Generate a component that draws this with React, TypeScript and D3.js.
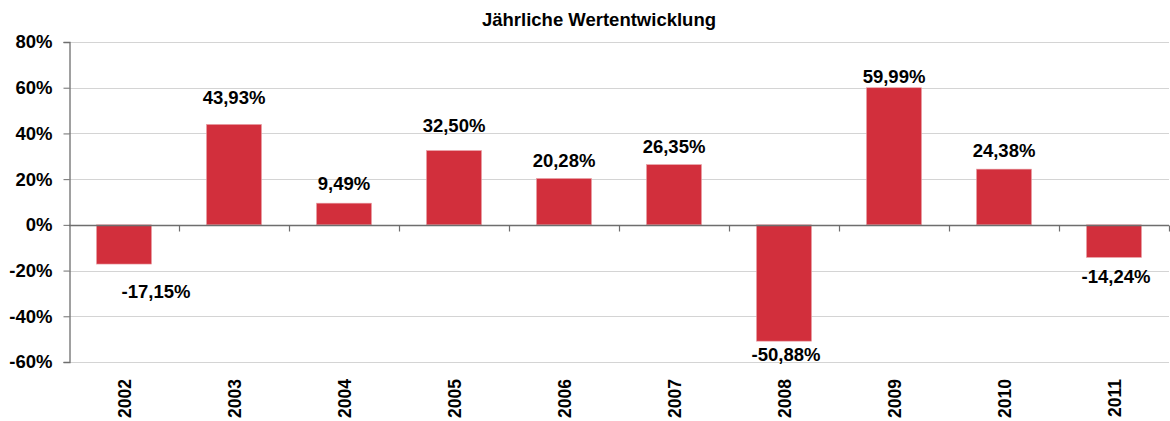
import React, { useEffect, useRef } from 'react';
import * as d3 from 'd3';

const years: string[] = ['2002', '2003', '2004', '2005', '2006', '2007', '2008', '2009', '2010', '2011'];
const returns: number[] = [-17.15, 43.93, 9.49, 32.5, 20.28, 26.35, -50.88, 59.99, 24.38, -14.24];
const yTicks: number[] = [-60, -40, -20, 0, 20, 40, 60, 80];

// label placement as in the original (baseline gap from bar end, horizontal shift)
const labelGap: number[] = [34, 20, 13, 19, 12, 12, 20, 5, 12, 26];
const labelShift: number[] = [32, 0, 0, 0, 0, 0, 2, 0, 0, 2];

const W = 1170;
const H = 421;
const FONT = '"Liberation Sans", Arial, sans-serif';

export default function App() {
  const svgRef = useRef<SVGSVGElement>(null);

  useEffect(() => {
    if (!svgRef.current) return;
    const svg = d3.select(svgRef.current);
    svg.selectAll('*').remove();

    const left = 69;
    const right = 1169;
    const top = 42;
    const bottom = 362;

    const x = d3.scaleBand<string>()
      .domain(years)
      .range([left, right])
      .paddingInner(0.5)
      .paddingOuter(0.25);

    const y = d3.scaleLinear().domain([-60, 80]).range([bottom, top]);

    const fmt = (v: number) => v.toFixed(2).replace('.', ',') + '%';

    // Grid lines
    svg.append('g')
      .selectAll('line')
      .data(yTicks.filter(t => t !== 0))
      .enter()
      .append('line')
      .attr('x1', left)
      .attr('x2', right)
      .attr('y1', d => Math.round(y(d)) + 0.5)
      .attr('y2', d => Math.round(y(d)) + 0.5)
      .attr('stroke', '#d4d4d4')
      .attr('stroke-width', 1.2);

    // Y axis
    const yAxis = svg.append('g')
      .attr('transform', `translate(${left + 0.5},0)`)
      .call(d3.axisLeft(y).tickValues(yTicks).tickSize(6).tickPadding(11).tickFormat(d => `${d}%`));
    yAxis.select('.domain').attr('stroke', '#6e6e6e').attr('stroke-width', 1.3);
    yAxis.selectAll('.tick line').attr('stroke', '#6e6e6e');
    yAxis.selectAll('text')
      .attr('fill', '#000')
      .style('font-family', FONT)
      .style('font-size', '18.5px')
      .style('font-weight', 'bold');

    // Bars
    svg.append('g')
      .selectAll('rect')
      .data(returns)
      .enter()
      .append('rect')
      .attr('x', (_d, i) => x(years[i])!)
      .attr('width', x.bandwidth())
      .attr('y', d => y(Math.max(0, d)))
      .attr('height', d => Math.abs(y(d) - y(0)))
      .attr('fill', '#d22f3c')
      .attr('stroke', '#e8a0a6')
      .attr('stroke-width', 0.6);

    // Zero line with category ticks
    const y0 = Math.round(y(0)) + 0.5;
    svg.append('line')
      .attr('x1', left)
      .attr('x2', right)
      .attr('y1', y0)
      .attr('y2', y0)
      .attr('stroke', '#6e6e6e')
      .attr('stroke-width', 1.3);
    svg.append('g')
      .selectAll('line')
      .data(d3.range(1, years.length + 1))
      .enter()
      .append('line')
      .attr('x1', i => Math.round(left + i * x.step()) + 0.5)
      .attr('x2', i => Math.round(left + i * x.step()) + 0.5)
      .attr('y1', y0)
      .attr('y2', y0 + 6)
      .attr('stroke', '#6e6e6e')
      .attr('stroke-width', 1.2);

    // Value labels
    svg.append('g')
      .selectAll('text')
      .data(returns)
      .enter()
      .append('text')
      .attr('x', (_d, i) => x(years[i])! + x.bandwidth() / 2 + labelShift[i])
      .attr('y', (d, i) => (d >= 0 ? y(d) - labelGap[i] : y(d) + labelGap[i]))
      .attr('text-anchor', 'middle')
      .style('font-family', FONT)
      .style('font-size', '18.5px')
      .style('font-weight', 'bold')
      .attr('fill', '#000')
      .text(d => fmt(d));

    // Year labels (rotated)
    svg.append('g')
      .selectAll('text')
      .data(years)
      .enter()
      .append('text')
      .attr('transform', d => `translate(${x(d)! + x.bandwidth() / 2 + 7},${bottom + 17}) rotate(-90)`)
      .attr('text-anchor', 'end')
      .style('font-family', FONT)
      .style('font-size', '17.5px')
      .style('font-weight', 'bold')
      .attr('fill', '#000')
      .text(d => d);

    // Title
    svg.append('text')
      .attr('x', 599)
      .attr('y', 26)
      .attr('text-anchor', 'middle')
      .style('font-family', FONT)
      .style('font-size', '18.5px')
      .style('font-weight', 'bold')
      .attr('fill', '#000')
      .text('Jährliche Wertentwicklung');
  }, []);

  return (
    <div>
      <style>{`body { margin: 0; background: #fff; }`}</style>
      <svg ref={svgRef} width={W} height={H} style={{ display: 'block' }} />
    </div>
  );
}
